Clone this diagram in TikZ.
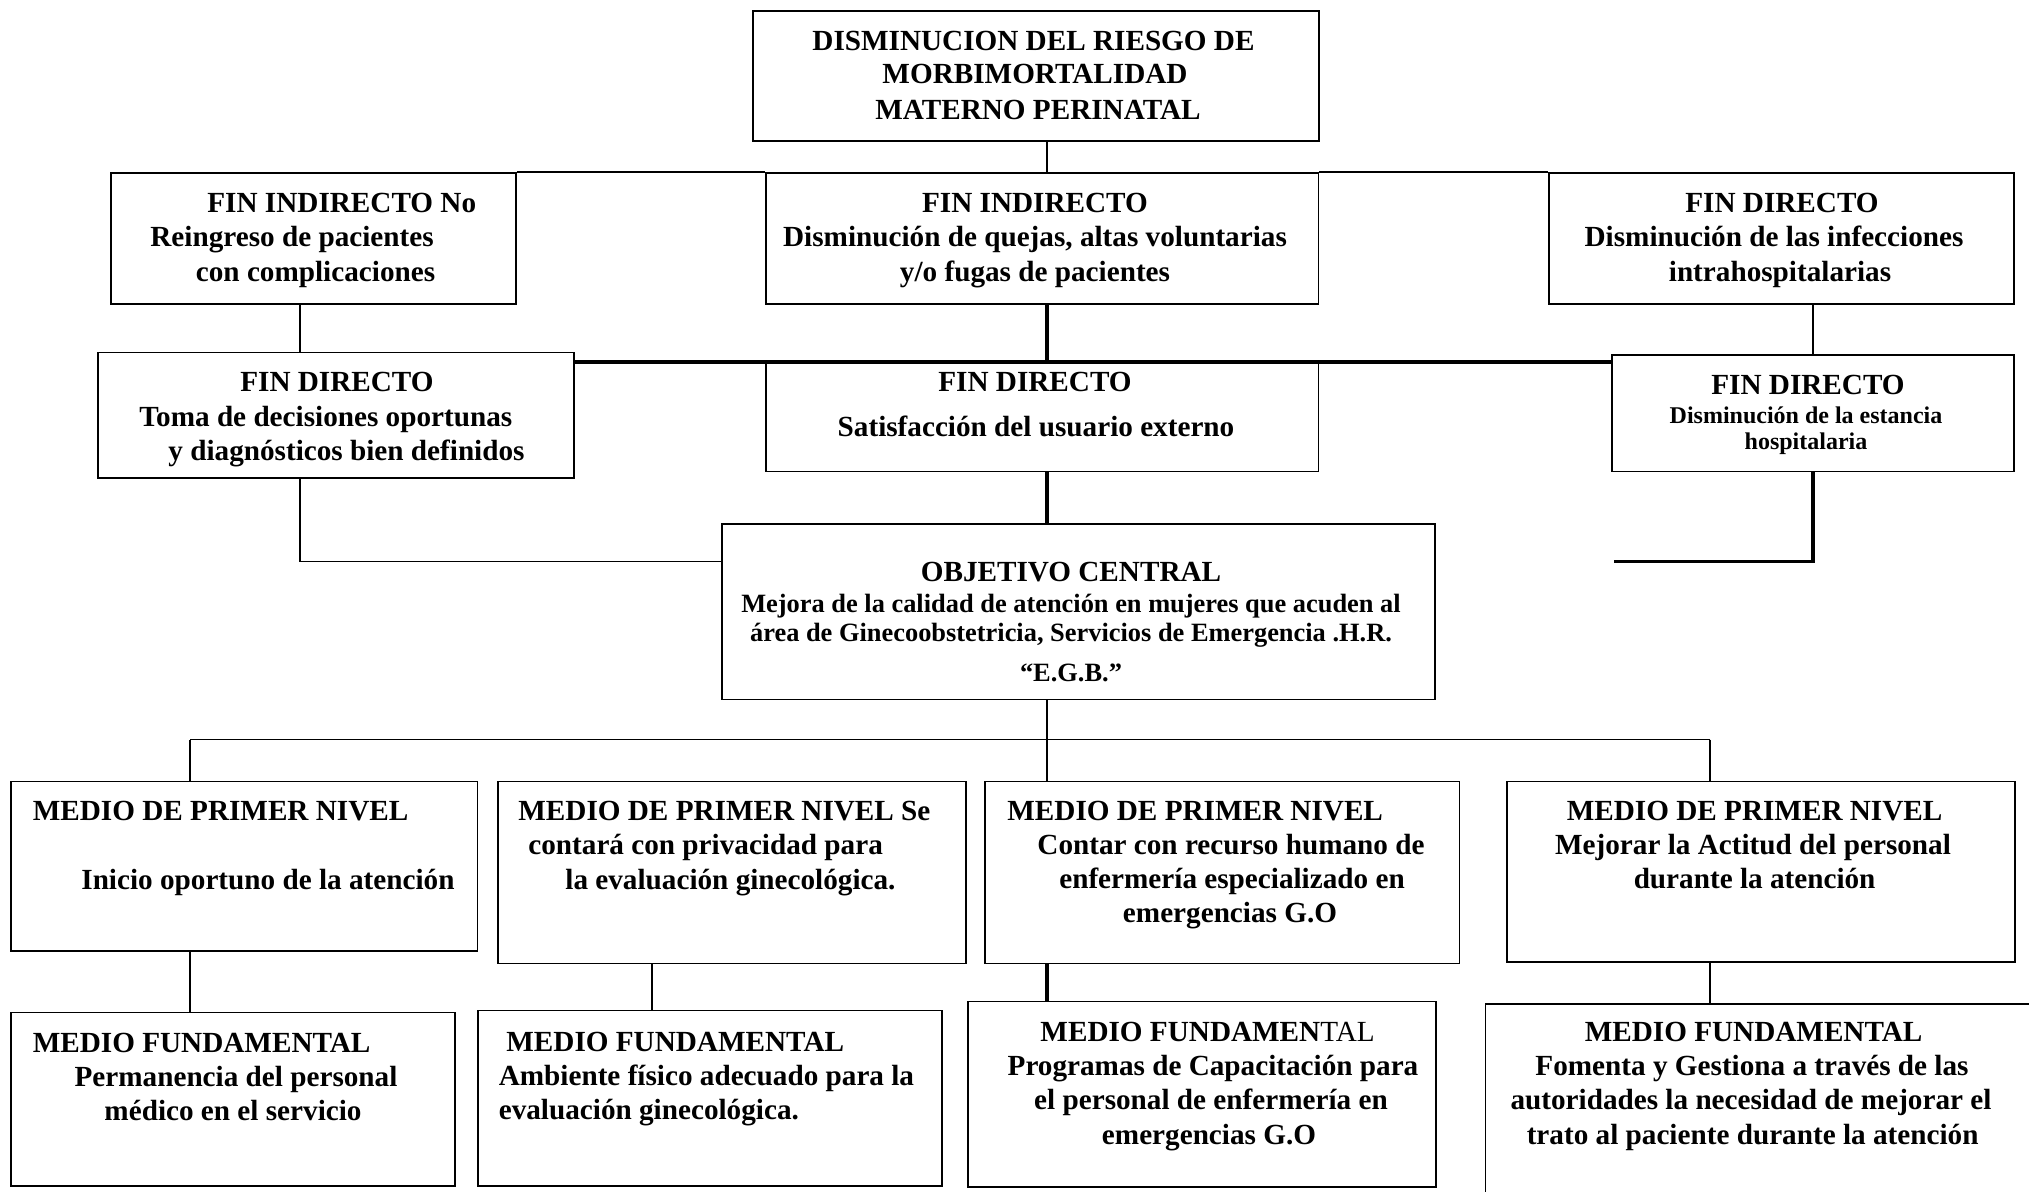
\documentclass[tikz,border=0pt]{standalone}
\usepackage{fontspec}
\setmainfont{Liberation Serif}
\usetikzlibrary{fit}
\begin{document}
\begin{tikzpicture}[x=0.5pt,y=-0.5pt,
  box/.style={draw, line width=0.75pt, inner sep=0pt},
  conn/.style={line width=0.75pt},
  medconn/.style={line width=1.1pt},
  thickconn/.style={line width=1.7pt},
  big/.style={font=\bfseries\fontsize{14.6}{17}\selectfont, inner sep=0pt},
  bodytxt/.style={font=\bfseries\fontsize{13.2}{15}\selectfont, inner sep=0pt},
  smalltxt/.style={font=\bfseries\fontsize{12}{14}\selectfont, inner sep=0pt}]
\useasboundingbox (0,0) rectangle (2029,1192);
\newcommand\mkbox[5]{\node[box, fit={(#2,#3) (#4,#5)}] (#1) {};}
% boxes
\mkbox{top}{753}{11}{1319}{141}
\mkbox{fi1}{111}{173}{516}{304}
\mkbox{fi2}{766}{173}{1318.5}{304}
\mkbox{fi3}{1549}{173}{2014}{304}
\mkbox{fd1}{98}{352.5}{574}{478}
\mkbox{fd2}{766}{363}{1318.5}{471.5}
\mkbox{fd3}{1612}{355}{2014}{471.5}
\mkbox{obj}{722}{524}{1435}{699.5}
\mkbox{mpn1}{11}{781.5}{477.7}{951}
\mkbox{mpn2}{498}{781.5}{966}{963.5}
\mkbox{mpn3}{985}{781.5}{1459.7}{963.5}
\mkbox{mpn4}{1507}{781.5}{2015}{962}
\mkbox{mf1}{11}{1012.5}{455}{1186}
\mkbox{mf2}{478}{1010.5}{942}{1186}
\mkbox{mf3}{968}{1001.5}{1436}{1187}
\node[inner sep=0pt, fit={(1486,1004.5) (2029,1192)}] (mf4) {};
\draw[line width=0.75pt] (mf4.south west) -- (mf4.north west) -- (mf4.north east);
% helper coordinates
\coordinate (spine) at (1047,0);
\coordinate (lsp) at (300,0);
\coordinate (hl) at (0,362);
\coordinate (lowL) at (0,561.5);
\coordinate (rowfive) at (0,739.5);
\coordinate (c1) at (190,0);
\coordinate (c2) at (652,0);
\coordinate (c4) at (1710,0);
\coordinate (freeR) at (1614,561.5);
% connectors
\draw[conn] (top.south -| spine) -- (fi2.north -| spine);
\draw[conn] (fi1.north east) -- (fi2.north west);
\draw[conn] (fi2.north east) -- (fi3.north west);
\draw[conn] (fi1.south -| lsp) -- (fd1.north -| lsp);
\draw[thickconn] (fi2.south -| spine) -- (hl -| spine);
\draw[thickconn] (fd1.east |- hl) -- (fd3.west |- hl);
\draw[medconn] (fi3.south -| fd3.north) -- (fd3.north);
\draw[conn] (fd1.south -| lsp) -- (lowL -| lsp) -- (obj.west |- lowL);
\draw[thickconn] (fd2.south -| spine) -- (obj.north -| spine);
\draw[thickconn] (fd3.south) -- (fd3.south |- freeR) -- (freeR);
\draw[medconn] (obj.south -| spine) -- (mpn3.north -| spine);
\draw[conn] (c1 |- rowfive) -- (c4 |- rowfive);
\draw[conn] (c1 |- rowfive) -- (mpn1.north -| c1);
\draw[conn] (c4 |- rowfive) -- (mpn4.north -| c4);
\draw[conn] (mpn1.south -| c1) -- (mf1.north -| c1);
\draw[conn] (mpn2.south -| c2) -- (mf2.north -| c2);
\draw[thickconn] (mpn3.south -| spine) -- (mf3.north -| spine);
\draw[conn] (mpn4.south -| c4) -- (mf4.north -| c4);
% texts: top
\node[big, anchor=base] (ttop1) at (1033.5,51) {DISMINUCION DEL RIESGO DE};
\node[big, anchor=base] (ttop2) at (1035,84) {MORBIMORTALIDAD};
\node[big, anchor=base] (ttop3) at (1038,120) {MATERNO PERINATAL};
% row 2
\node[big, anchor=base west] (tfi1a) at (207,213) {FIN INDIRECTO No};
\node[big, anchor=base west] (tfi1b) at (150,247) {Reingreso de pacientes};
\node[big, anchor=base west] (tfi1c) at (195.5,282) {con complicaciones};
\node[big, anchor=base] (tfi2a) at (1035,213) {FIN INDIRECTO};
\node[big, anchor=base] (tfi2b) at (1035,247) {Disminución de quejas, altas voluntarias};
\node[big, anchor=base] (tfi2c) at (1035,282) {y/o fugas de pacientes};
\node[big, anchor=base] (tfi3a) at (1782,213) {FIN DIRECTO};
\node[big, anchor=base] (tfi3b) at (1774,247) {Disminución de las infecciones};
\node[big, anchor=base] (tfi3c) at (1780,282) {intrahospitalarias};
% row 3
\node[big, anchor=base] (tfd1a) at (337,391.5) {FIN DIRECTO};
\node[big, anchor=base west] (tfd1b) at (139,427) {Toma de decisiones oportunas};
\node[big, anchor=base west] (tfd1c) at (168,460) {y diagnósticos bien definidos};
\node[big, anchor=base] (tfd2a) at (1035,392) {FIN DIRECTO};
\node[big, anchor=base] (tfd2b) at (1036,437) {Satisfacción del usuario externo};
\node[big, anchor=base] (tfd3a) at (1808,395) {FIN DIRECTO};
\node[smalltxt, anchor=base] (tfd3b) at (1806,423) {Disminución de la estancia};
\node[smalltxt, anchor=base] (tfd3c) at (1806,450) {hospitalaria};
% objective
\node[big, anchor=base] (tobja) at (1071,581) {OBJETIVO CENTRAL};
\node[bodytxt, anchor=base] (tobjb) at (1071,612) {Mejora de la calidad de atención en mujeres que acuden al};
\node[bodytxt, anchor=base] (tobjc) at (1071,641) {área de Ginecoobstetricia, Servicios de Emergencia .H.R.};
\node[bodytxt, anchor=base] (tobjd) at (1071,681) {“E.G.B.”};
% medios de primer nivel
\node[big, anchor=base west] (tm1a) at (32.4,820) {MEDIO DE PRIMER NIVEL};
\node[big, anchor=base west] (tm1b) at (81,889) {Inicio oportuno de la atención};
\node[big, anchor=base west] (tm2a) at (518,820) {MEDIO DE PRIMER NIVEL Se};
\node[big, anchor=base west] (tm2b) at (528,854) {contará con privacidad para};
\node[big, anchor=base west] (tm2c) at (565,889) {la evaluación ginecológica.};
\node[big, anchor=base west] (tm3a) at (1007,820) {MEDIO DE PRIMER NIVEL};
\node[big, anchor=base] (tm3b) at (1231,854) {Contar con recurso humano de};
\node[big, anchor=base] (tm3c) at (1232,888) {enfermería especializado en};
\node[big, anchor=base] (tm3d) at (1230,922) {emergencias G.O};
\node[big, anchor=base] (tm4a) at (1754.6,820) {MEDIO DE PRIMER NIVEL};
\node[big, anchor=base] (tm4b) at (1753,854) {Mejorar la Actitud del personal};
\node[big, anchor=base] (tm4c) at (1754.6,888) {durante la atención};
% medios fundamentales
\node[big, anchor=base west] (tf1a) at (32.4,1052) {MEDIO FUNDAMENTAL};
\node[big, anchor=base] (tf1b) at (236,1086) {Permanencia del personal};
\node[big, anchor=base] (tf1c) at (233,1120) {médico en el servicio};
\node[big, anchor=base west] (tf2a) at (506,1051) {MEDIO FUNDAMENTAL};
\node[big, anchor=base west] (tf2b) at (498.4,1085) {Ambiente físico adecuado para la};
\node[big, anchor=base west] (tf2c) at (498.4,1119) {evaluación ginecológica.};
\node[big, anchor=base] (tf3a) at (1207.6,1041) {MEDIO FUNDAMEN\textmd{TAL}};
\node[big, anchor=base] (tf3b) at (1213,1075) {Programas de Capacitación para};
\node[big, anchor=base] (tf3c) at (1211,1109) {el personal de enfermería en};
\node[big, anchor=base] (tf3d) at (1209,1144) {emergencias G.O};
\node[big, anchor=base] (tf4a) at (1753.6,1041) {MEDIO FUNDAMENTAL};
\node[big, anchor=base] (tf4b) at (1752,1075) {Fomenta y Gestiona a través de las};
\node[big, anchor=base] (tf4c) at (1751,1109) {autoridades la necesidad de mejorar el};
\node[big, anchor=base] (tf4d) at (1752.6,1144) {trato al paciente durante la atención};
\end{tikzpicture}
\end{document}
